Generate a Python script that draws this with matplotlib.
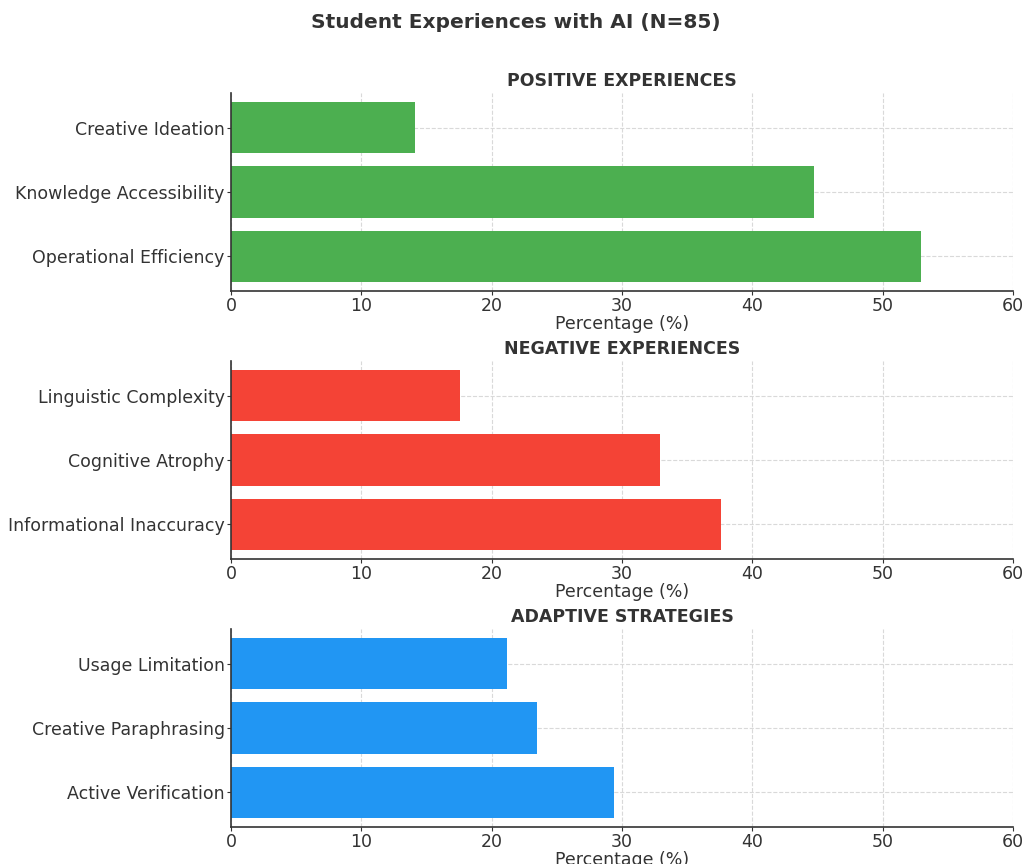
import numpy as np
import matplotlib
matplotlib.use('Agg')
import matplotlib.pyplot as plt

# data (share of N=85 students, %)
positive_labels = ['Operational Efficiency', 'Knowledge Accessibility', 'Creative Ideation']
positive_values = [52.9, 44.7, 14.1]

negative_labels = ['Informational Inaccuracy', 'Cognitive Atrophy', 'Linguistic Complexity']
negative_values = [37.6, 32.9, 17.6]

adaptive_labels = ['Active Verification', 'Creative Paraphrasing', 'Usage Limitation']
adaptive_values = [29.4, 23.5, 21.2]

panels = [
    ('POSITIVE EXPERIENCES', positive_labels, positive_values, '#4CAF50'),
    ('NEGATIVE EXPERIENCES', negative_labels, negative_values, '#F44336'),
    ('ADAPTIVE STRATEGIES', adaptive_labels, adaptive_values, '#2196F3'),
]

text_color = '#333333'
plt.rcParams['font.family'] = 'DejaVu Sans'

fig = plt.figure(figsize=(10.25, 8.64), dpi=100)
bottoms = [0.6632, 0.353, 0.0428]

for (title, labels, values, color), b in zip(panels, bottoms):
    ax = fig.add_axes([0.2254, b, 0.763, 0.2292])
    ax.barh(labels, values, color=color, height=0.8, zorder=2)
    ax.set_xlim(0, 60)
    ax.set_xticks(np.arange(0, 61, 10))
    ax.grid(True, linestyle='--', color='#d9d9d9', linewidth=0.8, zorder=0)
    ax.set_axisbelow(True)
    for side in ['top', 'right']:
        ax.spines[side].set_visible(False)
    for side in ['left', 'bottom']:
        ax.spines[side].set_color(text_color)
        ax.spines[side].set_linewidth(1.2)
    ax.tick_params(colors=text_color, labelsize=12.5, labelcolor=text_color, length=3, pad=1.5)
    ax.set_xlabel('Percentage (%)', fontsize=12.5, color=text_color, labelpad=0)
    ax.set_title(title, fontsize=12.5, fontweight='bold', color=text_color, pad=5)

fig.suptitle('Student Experiences with AI (N=85)', fontsize=14.5, fontweight='bold',
             color=text_color, x=0.503, y=0.985)

fig.savefig('out.png', dpi=100)
